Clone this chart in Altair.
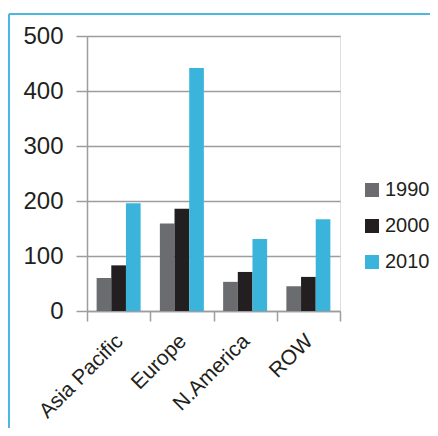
import altair as alt
import pandas as pd

regions = ["Asia Pacific", "Europe", "N.America", "ROW"]
years = ["1990", "2000", "2010"]
v1990 = [60, 159, 53, 45]
v2000 = [83, 186, 71, 62]
v2010 = [196, 442, 131, 167]
colors = ["#6b6c70", "#231f20", "#3bb4dc"]

rows = []
for i, r in enumerate(regions):
    for y, vals in zip(years, [v1990, v2000, v2010]):
        rows.append({"region": r, "year": y, "value": vals[i]})
df = pd.DataFrame(rows)

GRAY = "#9d9d9f"
BORDER = "#4db8e0"

bars = alt.Chart(df).mark_bar().encode(
    x=alt.X("region:N", sort=regions, title=None,
            scale=alt.Scale(paddingInner=0, paddingOuter=0),
            axis=alt.Axis(labelAngle=-45, labelFontSize=21, labelColor="#231f20",
                          labelFont="Liberation Sans", tickBand="extent",
                          tickSize=10, tickColor=GRAY, tickWidth=1.5,
                          domainColor=GRAY, domainWidth=1.5, labelPadding=9,
                          labelOffset=-7, labelBaseline="top", labelAlign="right",
                          grid=False)),
    xOffset=alt.XOffset("year:N", sort=years,
                        scale=alt.Scale(paddingInner=0, paddingOuter=0.656)),
    y=alt.Y("value:Q", title=None,
            scale=alt.Scale(domain=[0, 500], nice=False),
            axis=alt.Axis(values=[0, 100, 200, 300, 400, 500], labelFontSize=24,
                          labelColor="#231f20", labelFont="Liberation Sans",
                          tickSize=11, tickColor=GRAY, tickWidth=1.5,
                          domainColor=GRAY, domainWidth=1.5, labelPadding=13,
                          grid=True, gridColor=GRAY, gridWidth=1.5)),
    color=alt.Color("year:N", sort=years,
                    scale=alt.Scale(domain=years, range=colors),
                    legend=alt.Legend(title=None, orient="none", legendX=275, legendY=144,
                                      symbolType="square", symbolSize=196,
                                      symbolStrokeWidth=0, labelFontSize=20,
                                      labelFont="Liberation Sans", labelColor="#231f20",
                                      rowPadding=16, labelOffset=3)),
)

border_top = alt.Chart(df).mark_rule(color=BORDER, strokeWidth=1.5).encode(
    x=alt.value(-78), x2=alt.value(345), y=alt.value(-22))
border_left = alt.Chart(df).mark_rule(color=BORDER, strokeWidth=1.5).encode(
    x=alt.value(-78), y=alt.value(-22), y2=alt.value(392))

chart = alt.layer(border_top, border_left, bars).properties(
    width=253, height=275,
    autosize=alt.AutoSizeParams(type="none"),
    padding={"left": 79, "top": 28, "right": 90, "bottom": 117},
).configure_view(strokeWidth=0).configure(background="white")

chart.save("out.html", embed_options={"renderer": "svg", "actions": False})
